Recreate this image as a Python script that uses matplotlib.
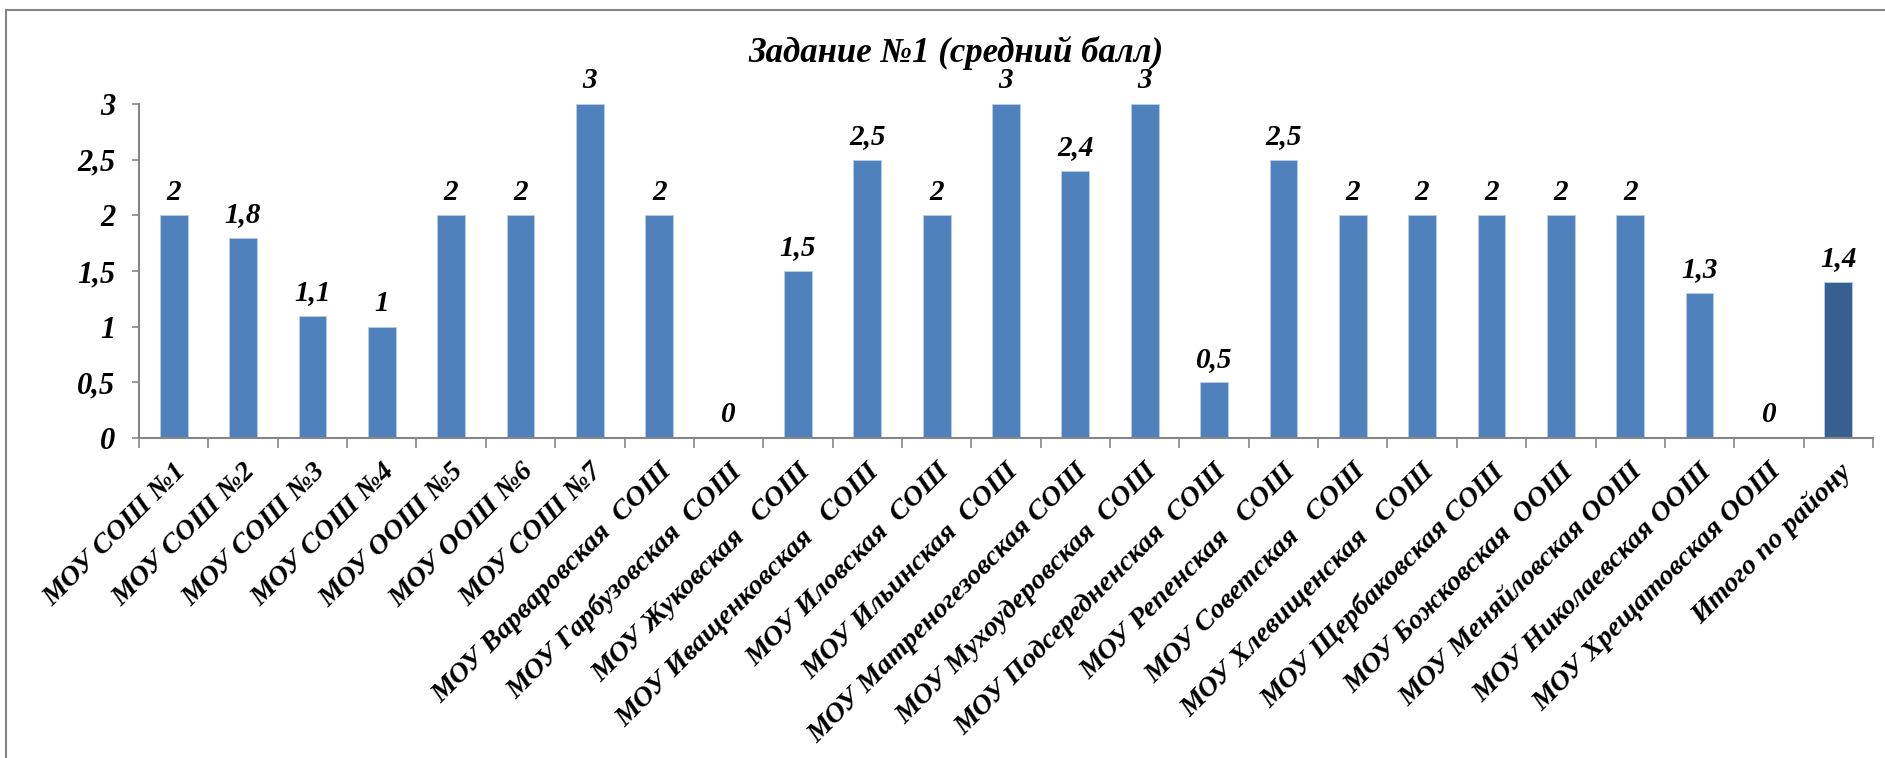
import numpy as np
import matplotlib
matplotlib.use("Agg")
import matplotlib.pyplot as plt
from matplotlib.patches import Rectangle

plt.rcParams['font.family'] = ['Liberation Serif', 'DejaVu Serif']

title = "Задание №1 (средний балл)"
schools = [
    "МОУ СОШ №1", "МОУ СОШ №2", "МОУ СОШ №3", "МОУ СОШ №4",
    "МОУ ООШ №5", "МОУ ООШ №6", "МОУ СОШ №7",
    "МОУ Варваровская  СОШ", "МОУ Гарбузовская  СОШ", "МОУ Жуковская   СОШ",
    "МОУ Иващенковская   СОШ", "МОУ Иловская  СОШ", "МОУ Ильинская  СОШ",
    "МОУ Матреногезовская СОШ", "МОУ Мухоудеровская  СОШ",
    "МОУ Подсередненская  СОШ", "МОУ Репенская   СОШ", "МОУ Советская   СОШ",
    "МОУ Хлевищенская   СОШ", "МОУ Щербаковская СОШ", "МОУ Божковская  ООШ",
    "МОУ Меняйловская ООШ", "МОУ Николаевская ООШ", "МОУ Хрещатовская ООШ",
    "Итого по району",
]
scores = [2, 1.8, 1.1, 1, 2, 2, 3, 2, 0, 1.5, 2.5, 2, 3, 2.4, 3, 0.5,
          2.5, 2, 2, 2, 2, 2, 1.3, 0, 1.4]
yticks = [0, 0.5, 1, 1.5, 2, 2.5, 3]

def fmt(v):
    return ("%g" % v).replace(".", ",")

W, H = 1885, 758
fig = plt.figure(figsize=(W / 100, H / 100), dpi=100)
ax = fig.add_axes([139 / W, 1 - 438 / H, (1873 - 139) / W, (438 - 104) / H])

x = np.arange(len(scores))
colors = ['#4F81BD'] * (len(scores) - 1) + ['#376092']
ax.bar(x, scores, width=0.4, color=colors, edgecolor='#B9CDE5', linewidth=0.6, zorder=2)

for xi, v in zip(x, scores):
    ax.annotate(fmt(v), (xi, v), xytext=(0, 7), textcoords='offset points',
                ha='center', va='bottom', fontsize=21, fontweight='bold',
                fontstyle='italic', annotation_clip=False)

ax.set_xlim(-0.5, len(scores) - 0.5)
ax.set_ylim(0, 3)
ax.set_yticks(yticks)
ax.set_yticklabels([fmt(t) for t in yticks], fontsize=22, fontweight='bold', fontstyle='italic')
ax.tick_params(axis='y', length=5, width=1.2, color='#868686', pad=12)

ax.set_xticks(x)
ax.set_xticklabels(schools, rotation=45, ha='right', va='top', rotation_mode='anchor',
                   fontsize=20.5, fontweight='bold', fontstyle='italic')
ax.tick_params(axis='x', which='major', length=0, pad=15)
ax.set_xticks(np.arange(len(scores) + 1) - 0.5, minor=True)
ax.tick_params(axis='x', which='minor', length=7, width=1.2, color='#868686')

for side in ['top', 'right']:
    ax.spines[side].set_visible(False)
for side in ['left', 'bottom']:
    ax.spines[side].set_color('#868686')
    ax.spines[side].set_linewidth(1.5)

fig.text(956 / W, 1 - 53 / H, title, ha='center', va='center',
         fontsize=25, fontweight='bold', fontstyle='italic')

# chart border
fig.patches.append(Rectangle((6 / W, -0.1), 1.2, 1 - 10 / H + 0.1,
                             transform=fig.transFigure, fill=False,
                             edgecolor='#868686', linewidth=1.5))

fig.savefig("out.png", dpi=100)
